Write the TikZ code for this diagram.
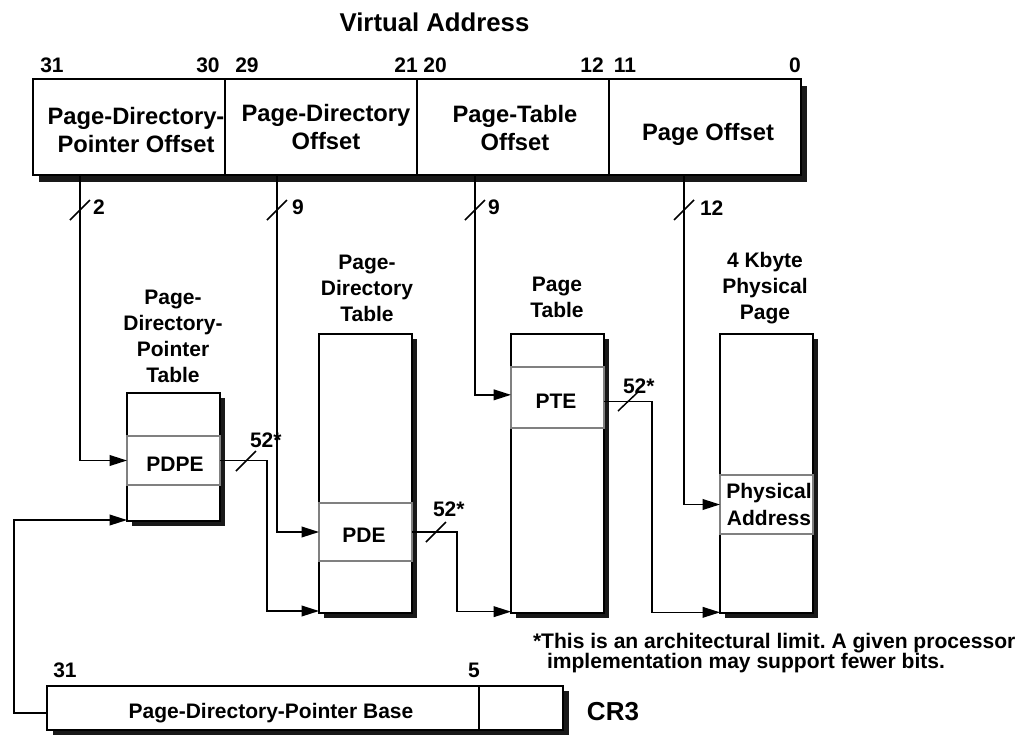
\documentclass[tikz,border=0pt]{standalone}
\usepackage{fontspec}
\setmainfont{Liberation Sans}
\usetikzlibrary{arrows.meta}
\frenchspacing
\begin{document}
\begin{tikzpicture}[x=0.75pt,y=-0.75pt,
  every node/.style={inner sep=0pt, outer sep=0pt},
  lbl/.style={font=\bfseries\fontsize{15.75}{19.5}\selectfont, align=center},
  big/.style={font=\bfseries\fontsize{17.8}{21}\selectfont, align=center},
  ttl/.style={font=\bfseries\fontsize{19.3}{23}\selectfont},
  fnote/.style={font=\bfseries\fontsize{15.8}{15}\selectfont, align=left},
  cr/.style={font=\bfseries\fontsize{19.5}{23}\selectfont},
  frame/.style={draw=black, line width=1.2pt, fill=white},
  shade/.style={fill=black!90, draw=none},
  rowbox/.style={draw=black!50, line width=1.2pt},
  conn/.style={draw=black, line width=1.1pt},
  arr/.style={conn, -{Triangle[length=13pt,width=8pt]}},
  slash/.style={draw=black, line width=1.1pt}
]
\useasboundingbox (0,0) rectangle (1029,736);

% ---------- title ----------
\node[ttl, anchor=base] (title) at (434.5,31) {Virtual Address};

% ---------- virtual address register ----------
\fill[shade] (39,86) rectangle (807,182);
\node[frame, minimum width=144pt, minimum height=72pt] (va1) at (129,127) {};
\node[frame, minimum width=144pt, minimum height=72pt] (va2) at (321,127) {};
\node[frame, minimum width=144pt, minimum height=72pt] (va3) at (513,127) {};
\node[frame, minimum width=144pt, minimum height=72pt] (va4) at (705,127) {};
\node[big, anchor=north] (t1) at (136,107) {Page-Directory-\\Pointer Offset};
\node[big, anchor=north] (t2) at (326,104) {Page-Directory\\Offset};
\node[big, anchor=north] (t3) at (515,105) {Page-Table\\Offset};
\node[big, anchor=base] (t4) at (708,140) {Page Offset};

% bit numbers
\node[lbl, anchor=base] (b31) at (52,72) {31};
\node[lbl, anchor=base] (b30) at (208,72) {30};
\node[lbl, anchor=base] (b29) at (247,72) {29};
\node[lbl, anchor=base] (b21) at (406,72) {21};
\node[lbl, anchor=base] (b20) at (435,72) {20};
\node[lbl, anchor=base] (b12) at (592,72) {12};
\node[lbl, anchor=base] (b11) at (625,72) {11};
\node[lbl, anchor=base] (b0) at (795,72) {0};

% ---------- tables ----------
% page-directory-pointer table
\fill[shade] (132,398) rectangle (225,526);
\node[frame, minimum width=69.75pt, minimum height=96pt] (pdpt) at (173.5,457) {};
\node[rowbox, minimum width=69.75pt, minimum height=36.75pt] (pdpe) at (173.5,460.5) {};
\node[lbl, anchor=base] (pdpetxt) at (175,471) {PDPE};
\node[lbl, anchor=north] (pdptlbl) at (173,290) {Page-\\Directory-\\Pointer\\Table};

% page-directory table
\fill[shade] (324,339) rectangle (417,618);
\node[frame, minimum width=69.75pt, minimum height=209.25pt] (pdt) at (365.5,473.5) {};
\node[rowbox, minimum width=69.75pt, minimum height=43.5pt] (pde) at (365.5,532) {};
\node[lbl, anchor=base] (pdetxt) at (364,542) {PDE};
\node[lbl, anchor=north] (pdtlbl) at (367,255) {Page-\\Directory\\Table};

% page table
\fill[shade] (516,339) rectangle (609,618);
\node[frame, minimum width=69.75pt, minimum height=209.25pt] (ptab) at (557.5,473.5) {};
\node[rowbox, minimum width=69.75pt, minimum height=45.75pt] (pte) at (557.5,397.5) {};
\node[lbl, anchor=base] (ptetxt) at (556,408) {PTE};
\node[lbl, anchor=north] (ptlbl) at (557,277) {Page\\Table};

% physical page
\fill[shade] (725,339) rectangle (818,618);
\node[frame, minimum width=69.75pt, minimum height=209.25pt] (pp) at (766.5,473.5) {};
\node[rowbox, minimum width=69.75pt, minimum height=44.25pt] (pa) at (766.5,504.5) {};
\node[lbl, anchor=north, font=\bfseries\fontsize{15.75}{20.25}\selectfont] (patxt) at (769,483) {Physical\\Address};
\node[lbl, anchor=north] (pplbl) at (765,252) {4 Kbyte\\Physical\\Page};

% ---------- CR3 ----------
\fill[shade] (53,691) rectangle (569,735);
\node[frame, minimum width=324pt, minimum height=33pt] (cr3a) at (263,708) {};
\node[frame, minimum width=63pt, minimum height=33pt] (cr3b) at (521,708) {};
\node[lbl, anchor=base] (cr3txt) at (271,718) {Page-Directory-Pointer Base};
\node[lbl, anchor=base] (c31) at (65,677) {31};
\node[lbl, anchor=base] (c5) at (474,677) {5};
\node[cr, anchor=base] (cr3) at (613,720) {CR3};

% ---------- footnote ----------
\node[fnote, anchor=north west] (fn) at (533,633) {*This is an architectural limit. A given processor\\\hspace*{10.5pt}implementation may support fewer bits.};

% ---------- connectors ----------
\coordinate (s1) at (80,175);
\coordinate (s2) at (277,175);
\coordinate (s3) at (475,175);
\coordinate (s4) at (684,175);
\draw[arr] (s1) |- (pdpe.west);
\draw[arr] (s2) |- (pde.west);
\draw[arr] (s3) |- ([yshift=2pt]pte.west);
\draw[arr] (s4) |- (pa.west);

\draw[arr] (pdpe.east) -- (267,460.5) |- ([yshift=1.5pt]pdt.south west);
\draw[arr] (pde.east) -- (457,532) |- ([yshift=1pt]ptab.south west);
\draw[arr] ([yshift=-3pt]pte.east) -- (652,401.5) |- ([yshift=0.5pt]pp.south west);
\draw[arr] ([yshift=-3.75pt]cr3a.west) -| (14,520) -- ([yshift=0.75pt]pdpt.south west);

% slash marks and widths
\draw[slash] (70,220) -- (90,200);
\draw[slash] (267,220) -- (287,200);
\draw[slash] (465,220) -- (485,200);
\draw[slash] (674,220) -- (694,200);
\node[lbl, anchor=base west] (w1) at (93,214) {2};
\node[lbl, anchor=base west] (w2) at (292,214) {9};
\node[lbl, anchor=base west] (w3) at (488,214) {9};
\node[lbl, anchor=base west] (w4) at (700,215) {12};

\draw[slash] (236,471) -- (256,451);
\draw[slash] (426,542) -- (446,522);
\draw[slash] (618,411) -- (638,392);
\node[lbl, anchor=base west] (w5) at (250,447) {52*};
\node[lbl, anchor=base west] (w6) at (433,516) {52*};
\node[lbl, anchor=base west] (w7) at (623,393) {52*};
\end{tikzpicture}
\end{document}
